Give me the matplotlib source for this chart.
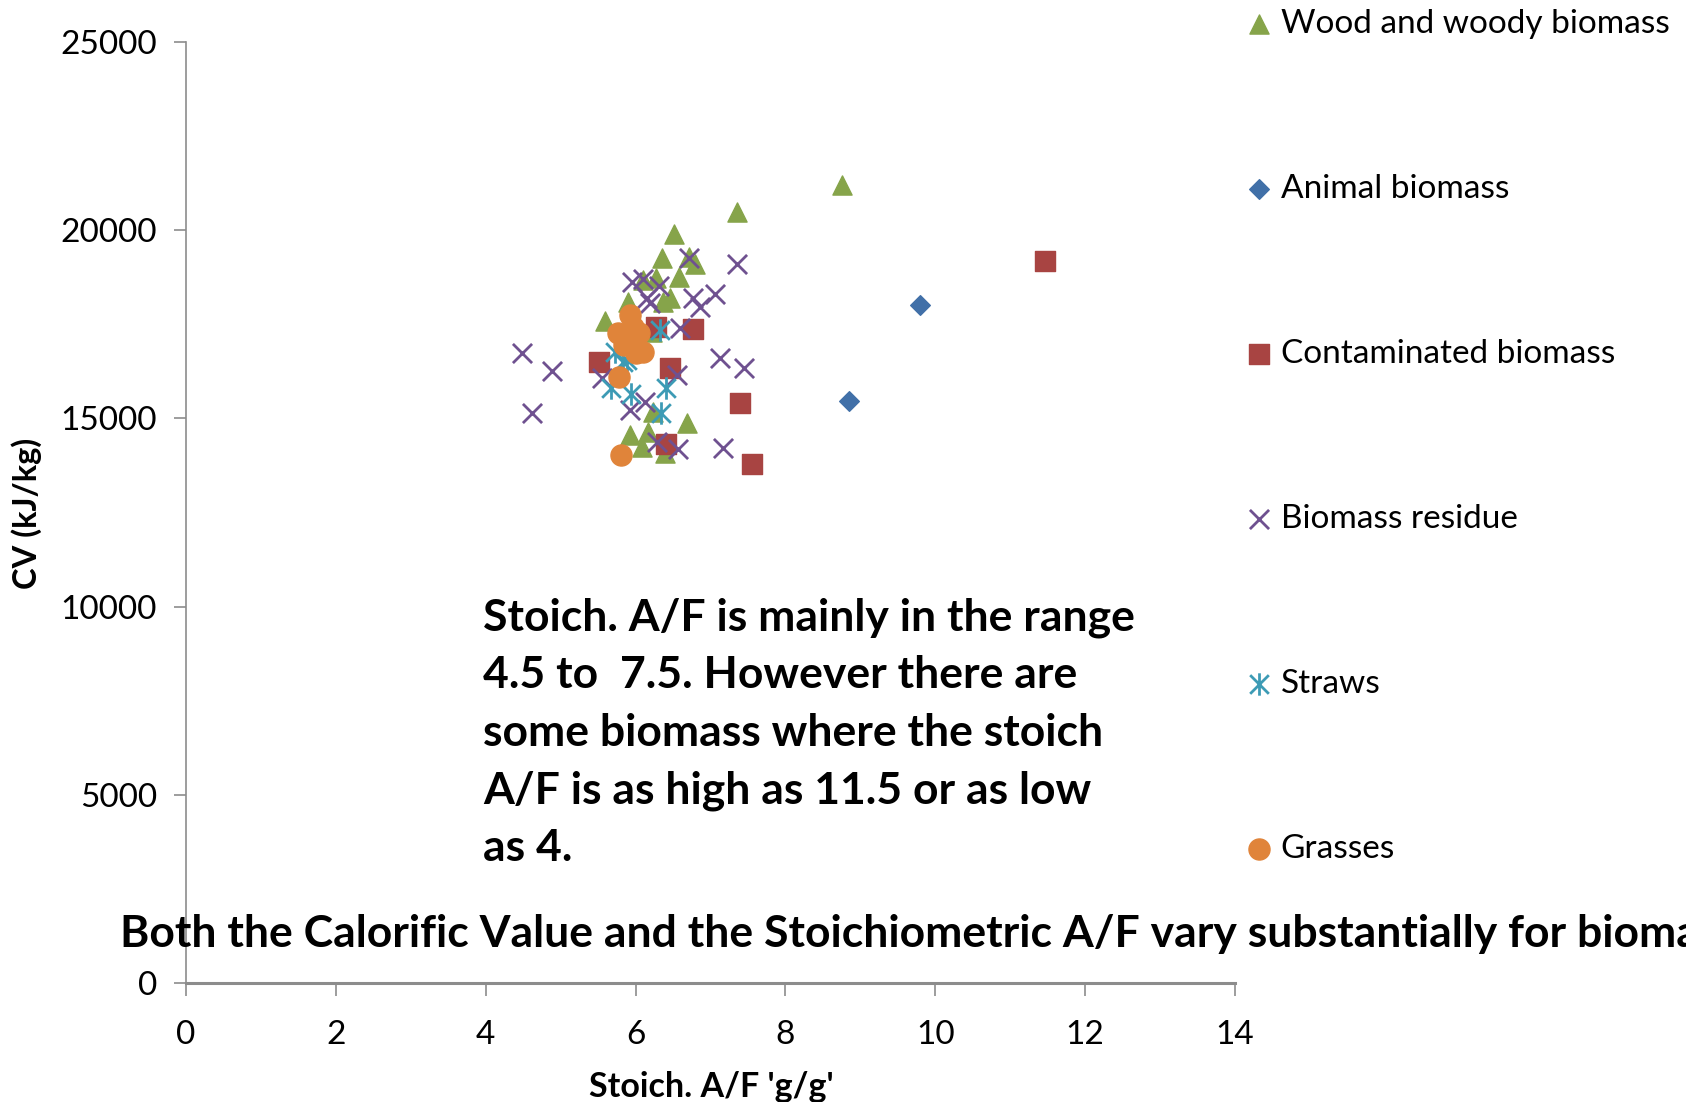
#!/usr/bin/env python3
"""CV vs stoichiometric A/F scatter for several biomass groups."""
import numpy as np
import matplotlib
matplotlib.use("Agg")
import matplotlib.pyplot as plt
from matplotlib.path import Path

plt.rcParams["font.family"] = ["Lato", "DejaVu Sans"]

# stoich. A/F (g/g) and calorific value (kJ/kg) per group
wood_af = [8.75, 7.36, 6.51, 6.35, 6.72, 6.79, 6.58, 6.10, 6.27, 6.46, 6.37,
           5.90, 5.59, 6.22, 6.23, 6.68, 5.93, 6.17, 6.08, 6.39]
wood_cv = [21200, 20490, 19890, 19260, 19290, 19110, 18750, 18680, 18720, 18200, 18090,
           18090, 17600, 17300, 15170, 14880, 14560, 14640, 14250, 14080]

animal_af = [9.80, 8.85]
animal_cv = [18000, 15460]

contam_af = [11.46, 6.77, 5.51, 6.27, 6.46, 7.39, 6.40, 7.55]
contam_cv = [19170, 17370, 16490, 17430, 16340, 15400, 14310, 13800]

residue_af = [4.49, 4.88, 4.62, 5.55, 6.71, 7.35, 5.95, 6.10, 6.31, 6.15, 6.19,
              6.77, 7.06, 6.86, 6.59, 7.13, 7.45, 6.55, 5.92, 6.12, 6.28, 6.57, 7.17]
residue_cv = [16730, 16260, 15140, 16060, 19260, 19110, 18630, 18690, 18510, 18200, 18060,
              18200, 18310, 17970, 17400, 16600, 16340, 16150, 15230, 15430, 14370, 14180, 14200]

straw_af = [6.32, 5.67, 5.94, 6.41, 6.34, 5.88, 5.72, 5.83]
straw_cv = [17340, 15800, 15660, 15800, 15140, 16540, 16770, 16490]

grass_af = [5.93, 5.77, 5.97, 6.04, 5.85, 6.00, 6.10, 5.78, 5.81]
grass_cv = [17740, 17260, 17430, 17260, 16940, 16740, 16770, 16090, 14030]

x_ticks = [0, 2, 4, 6, 8, 10, 12, 14]
y_ticks = [0, 5000, 10000, 15000, 20000, 25000]

note = ("Stoich. A/F is mainly in the range\n"
        "4.5 to  7.5. However there are\n"
        "some biomass where the stoich\n"
        "A/F is as high as 11.5 or as low\n"
        "as 4.")
headline = ("Both the Calorific Value and the Stoichiometric A/F vary "
            "substantially for biomass")

# Excel-style star: an x with a vertical bar through it
star = Path([(-0.5, -0.5), (0.5, 0.5), (-0.5, 0.5), (0.5, -0.5), (0, -0.6), (0, 0.6)],
            [Path.MOVETO, Path.LINETO, Path.MOVETO, Path.LINETO, Path.MOVETO, Path.LINETO])

fig = plt.figure(figsize=(16.86, 11.02), dpi=100)
ax = fig.add_axes([0.1103, 0.108, 0.6222, 0.8539])

series = [
    (wood_af, wood_cv, "Wood and woody biomass", dict(marker="^", s=190, color="#86A44A")),
    (animal_af, animal_cv, "Animal biomass", dict(marker="D", s=100, color="#4170A8")),
    (contam_af, contam_cv, "Contaminated biomass", dict(marker="s", s=190, color="#A84442")),
    (residue_af, residue_cv, "Biomass residue",
     dict(marker="x", s=190, color="#6F5190", linewidths=2)),
    (straw_af, straw_cv, "Straws", dict(marker=star, s=260, color="#3D9BB5", linewidths=2)),
    (grass_af, grass_cv, "Grasses", dict(marker="o", s=230, color="#E0843A")),
]
for xs, ys, lab, kw in series:
    ax.scatter(xs, ys, label=lab, **kw)

ax.set_xlim(0, 14)
ax.set_ylim(0, 25000)
ax.set_xticks(x_ticks)
ax.set_yticks(y_ticks)
for side in ("top", "right"):
    ax.spines[side].set_visible(False)
ax.spines["left"].set_color("#8C8C8C")
ax.spines["left"].set_linewidth(1.2)
ax.spines["bottom"].set_color("#8C8C8C")
ax.spines["bottom"].set_linewidth(2.2)
ax.tick_params(axis="both", colors="#8C8C8C", labelcolor="black", labelsize=24,
               direction="out", length=9, width=1.2)
ax.tick_params(axis="x", pad=18)
ax.tick_params(axis="y", pad=12)

fig.text(0.016, 0.534, "CV (kJ/kg)", rotation=90, ha="center", va="center",
         fontsize=23.5, fontweight="bold")
fig.text(0.422, 0.014, "Stoich. A/F 'g/g'", ha="center", va="center",
         fontsize=24.5, fontweight="bold")

fig.text(0.2865, 0.458, note, ha="left", va="top", fontsize=32, fontweight="bold",
         linespacing=1.53)
fig.text(0.0713, 0.152, headline, ha="left", va="center", fontsize=32, fontweight="bold")

fig.legend(loc="upper left", bbox_to_anchor=(0.729, 1.004), frameon=False,
           fontsize=24, labelspacing=4.05, handletextpad=0.15, handlelength=1.0,
           scatterpoints=1, borderaxespad=0)

fig.savefig("out.png", dpi=100)
